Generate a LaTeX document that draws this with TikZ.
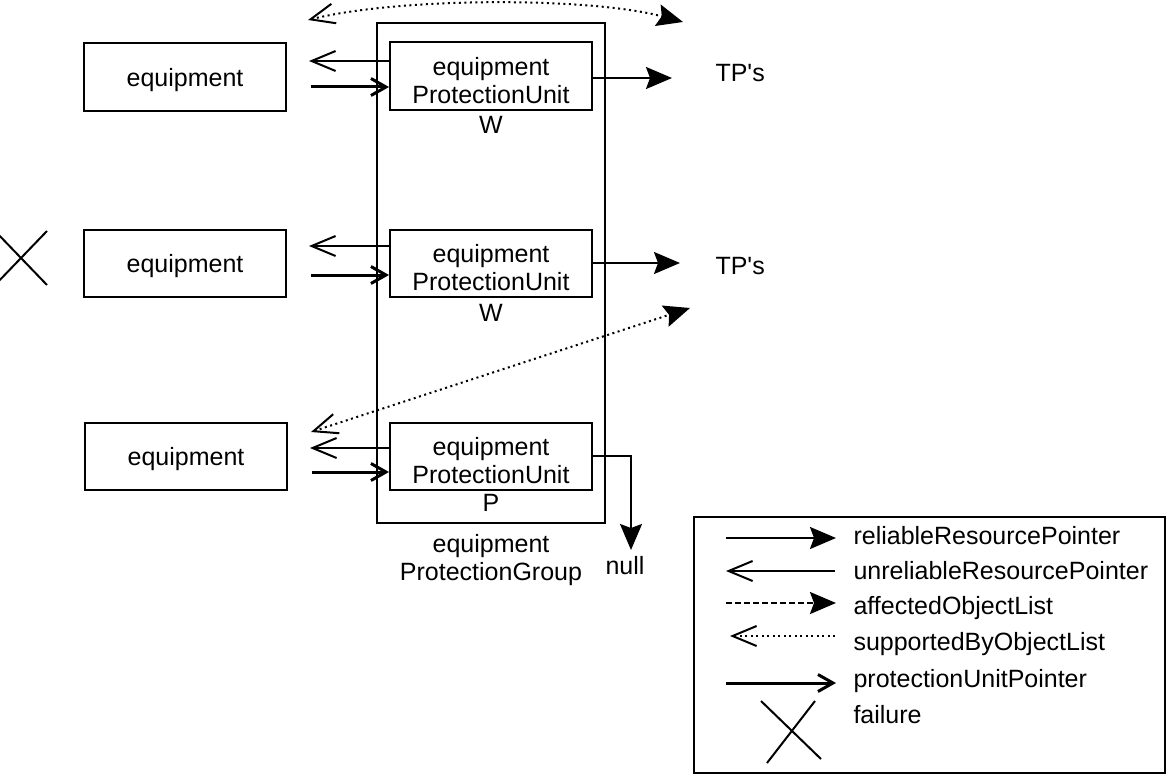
\documentclass[tikz,border=0pt]{standalone}
\usepackage{fontspec}
\setmainfont{Liberation Sans}
\usetikzlibrary{arrows.meta}

\begin{document}
\begin{tikzpicture}[x=1pt, y=-1pt,
    font=\fontsize{25}{28}\selectfont,
    box/.style={draw, line width=2pt, minimum width=202pt, minimum height=67pt, inner sep=0pt, align=center},
    rel/.style={line width=2pt, -{Stealth[length=26pt, width=22pt, inset=4pt]}},
    unrel/.style={line width=2pt, -{Straight Barb[length=24pt, width=20pt]}},
    ptr/.style={line width=3pt, -{Straight Barb[length=15pt, width=17pt]}},
    dots/.style={line width=2pt, dash pattern=on 2pt off 3.5pt},
    dashes/.style={line width=2pt, dash pattern=on 6pt off 3pt},
    cross/.style={line width=2pt}]
    \useasboundingbox (0,0) rectangle (1168,776);

    % Gruppo di protezione
    \node[draw, line width=2pt, minimum width=228pt, minimum height=500pt, inner sep=0pt] (grp) at (491,273) {};
    \node[align=center] (grplab) at (491,560) {equipment\\ProtectionGroup};

    % Equipment a sinistra
    \node[box] (e1) at (185,77) {\rule{0pt}{24pt}equipment};
    \node[box] (e2) at (185,263) {\rule{0pt}{24pt}equipment};
    \node[box] (e3) at (186,456) {\rule{0pt}{24pt}equipment};

    % Unita di protezione
    \node[box] (u1) at (491,76) {\rule{0pt}{28pt}equipment\\ProtectionUnit};
    \node[box] (u2) at (491,263) {\rule{0pt}{28pt}equipment\\ProtectionUnit};
    \node[box] (u3) at (491,456) {\rule{0pt}{28pt}equipment\\ProtectionUnit};
    \node (w1) at (491,125) {W};
    \node (w2) at (491,313) {W};
    \node (p3) at (491,503) {P};

    % Guasto
    \draw[cross] (-5,231) -- (47,285);
    \draw[cross] (-5,285) -- (47,231);

    % Puntatori verso gli equipment
    \draw[unrel] ([yshift=15pt]u1.west) -- ([yshift=16pt, xshift=22pt]e1.east);
    \draw[ptr] ([yshift=-10pt, xshift=24pt]e1.east) -- ([yshift=-11pt]u1.west);
    \draw[unrel] ([yshift=17pt]u2.west) -- ([yshift=17pt, xshift=22pt]e2.east);
    \draw[ptr] ([yshift=-12pt, xshift=24pt]e2.east) -- ([yshift=-12pt]u2.west);
    \draw[unrel] ([yshift=8pt]u3.west) -- ([yshift=8pt, xshift=22pt]e3.east);
    \draw[ptr] ([yshift=-16pt, xshift=24pt]e3.east) -- ([yshift=-16pt]u3.west);

    % Puntatori verso i TP
    \node[anchor=west] (tp1) at (712,73) {TP\textquotesingle s};
    \node[anchor=west] (tp2) at (712,266) {TP\textquotesingle s};
    \coordinate (r1) at (672,78);
    \coordinate (r2) at (680,263);
    \draw[rel] (u1.east |- r1) -- (r1);
    \draw[rel] (u2.east |- r2) -- (r2);

    % Nessun TP per la protezione
    \node (nul) at (625,566) {null};
    \coordinate (n3) at (631,550);
    \draw[rel] (u3.east) -| (n3);

    % Liste puntinate
    \coordinate (sa) at (308,20);
    \coordinate (sb) at (683,22);
    \draw[dots, {Straight Barb[length=24pt, width=20pt, line width=2pt]}-{Stealth[length=26pt, width=22pt, inset=4pt]}]
        (sa) .. controls (400,-3) and (590,-3) .. (sb);
    \coordinate (sc) at (311,432);
    \coordinate (sd) at (690,308);
    \draw[dots, {Straight Barb[length=24pt, width=20pt, line width=2pt]}-{Stealth[length=26pt, width=22pt, inset=4pt]}]
        (sc) -- (sd);

    % Legenda
    \node[draw, line width=2pt, minimum width=471pt, minimum height=256pt, inner sep=0pt] (leg) at (929.5,645) {};
    \coordinate (la1) at (726,538); \coordinate (lb1) at (836,538);
    \coordinate (la2) at (726,571); \coordinate (lb2) at (835,571);
    \coordinate (la3) at (726,603); \coordinate (lb3) at (836,603);
    \coordinate (la4) at (730,636); \coordinate (lb4) at (835,636);
    \coordinate (la5) at (726,683); \coordinate (lb5) at (836,683);
    \draw[rel] (la1) -- (lb1);
    \draw[unrel] (lb2) -- (la2);
    \draw[dashes, -{Stealth[length=26pt, width=22pt, inset=4pt]}] (la3) -- (lb3);
    \draw[dots, -{Straight Barb[length=24pt, width=20pt, line width=2pt]}] (lb4) -- (la4);
    \draw[ptr] (la5) -- (lb5);
    \draw[cross] (761,701) -- (821,759);
    \draw[cross] (815,701) -- (767,763);
    \node[anchor=west] (t1) at (850,536) {reliableResourcePointer};
    \node[anchor=west] (t2) at (850,571) {unreliableResourcePointer};
    \node[anchor=west] (t3) at (850,608) {affectedObjectList};
    \node[anchor=west] (t4) at (850,644) {supportedByObjectList};
    \node[anchor=west] (t5) at (850,681) {protectionUnitPointer};
    \node[anchor=west] (t6) at (850,715) {failure};

\end{tikzpicture}
\end{document}
